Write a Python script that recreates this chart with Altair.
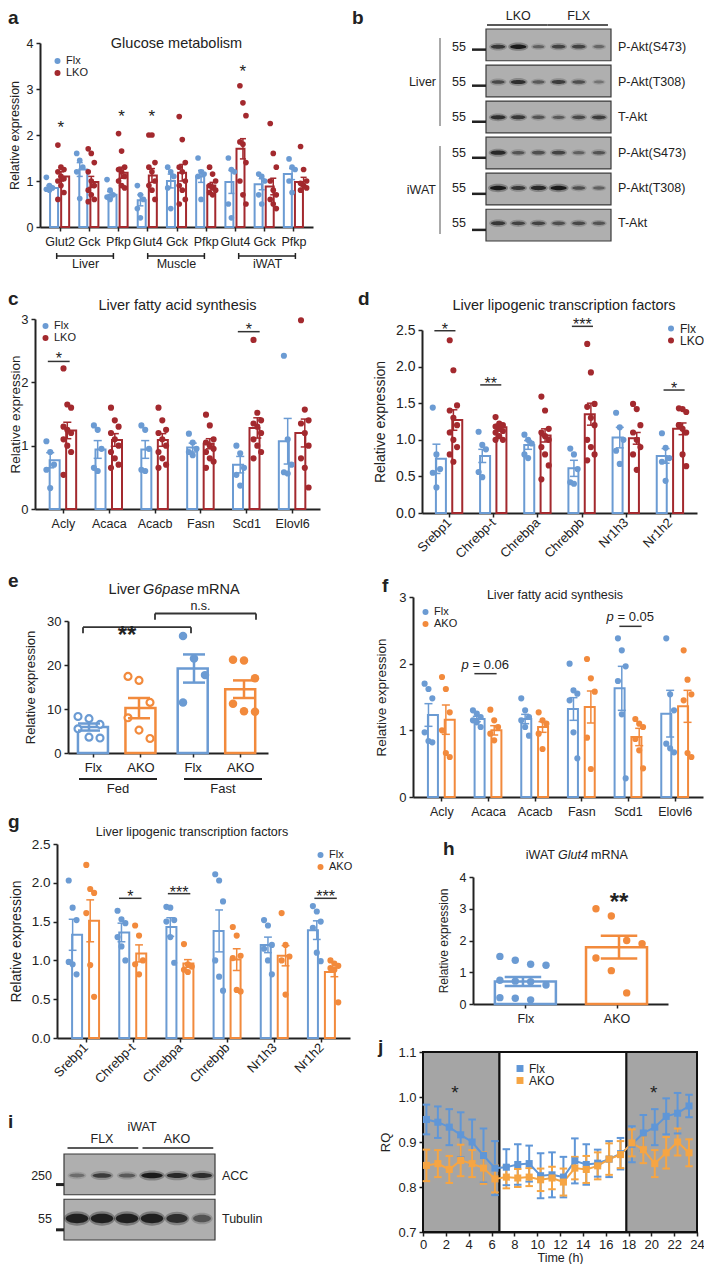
import json
import altair as alt
import pandas as pd

FONT = "Liberation Sans"
INK = "#222222"
BLUE = "#6b9bd3"
RED = "#a3292e"
ORANGE = "#f28a3c"
JBLUE = "#5f96d7"
JORANGE = "#f6a543"
SHADE = "#a5a5a5"
GEL = "#afafaf"
BAND = "#141414"
TW, TH = 696, 1256   # whole drawing area (page minus 8px margin)

# ======================= DATA =======================
# (a) Glucose metabolism
a_genes = ["Glut2", "Gck", "Pfkp", "Glut4", "Gck", "Pfkp", "Glut4", "Gck", "Pfkp"]
a_tissues = ["Liver", "Muscle", "iWAT"]
a_tissue_first = [0, 3, 6]
a_tissue_last = [2, 5, 8]
a_flx_mean = [0.85, 1.25, 0.70, 0.58, 1.00, 1.10, 0.98, 0.93, 1.15]
a_flx_sem = [0.05, 0.15, 0.07, 0.12, 0.15, 0.13, 0.25, 0.12, 0.12]
a_lko_mean = [1.10, 0.98, 1.18, 1.12, 1.18, 0.90, 1.70, 0.88, 0.98]
a_lko_sem = [0.10, 0.12, 0.12, 0.15, 0.18, 0.07, 0.22, 0.18, 0.10]
a_flx_pts = [
    [1.08, 0.90, 0.85, 0.82, 0.80],
    [1.60, 1.45, 1.30, 1.20, 0.62],
    [1.03, 0.80, 0.70, 0.65, 0.60],
    [0.90, 0.70, 0.60, 0.40, 0.20],
    [1.30, 1.20, 1.10, 0.85, 0.40],
    [1.50, 1.20, 1.15, 1.10, 0.60],
    [1.50, 1.25, 1.20, 0.50, 0.20],
    [1.15, 1.10, 1.00, 0.70, 0.50],
    [1.48, 1.30, 1.25, 1.00, 0.75],
]
a_lko_pts = [
    [1.78, 1.30, 1.25, 1.20, 1.10, 1.05, 1.00, 0.90, 0.75, 0.60],
    [1.70, 1.60, 1.40, 1.20, 1.00, 0.90, 0.80, 0.70, 0.60, 0.55],
    [2.03, 1.65, 1.30, 1.25, 1.20, 1.10, 1.00, 0.90, 0.85],
    [2.00, 2.00, 1.40, 1.30, 1.20, 1.00, 0.90, 0.80, 0.60],
    [2.40, 1.90, 1.40, 1.30, 1.20, 1.00, 0.90, 0.80, 0.60, 0.50],
    [1.30, 1.15, 1.00, 0.90, 0.85, 0.80, 0.75, 0.70],
    [3.07, 2.70, 2.42, 1.85, 1.80, 1.40, 1.00, 0.70, 0.50],
    [2.25, 1.60, 1.30, 1.00, 0.80, 0.70, 0.60, 0.50, 0.40],
    [1.75, 1.25, 1.00, 0.95, 0.90, 0.85, 0.80],
]
a_star_gene = [0, 2, 3, 6]
a_star_y = [2.35, 2.58, 2.58, 3.56]

# (b) Akt western blot (band intensities 0-1, lanes 1-6)
b_groups = ["LKO", "FLX"]
b_group_first = [1, 4]
b_group_last = [3, 6]
b_lanes = [1, 2, 3, 4, 5, 6]
b_tissues = ["Liver", "iWAT"]
b_strips = ["P-Akt(S473)", "P-Akt(T308)", "T-Akt"]
b_mw = "55"
b_liver = [[0.70, 1.00, 0.35, 0.60, 0.60, 0.30],
           [0.55, 0.80, 0.40, 0.65, 0.50, 0.20],
           [0.80, 0.70, 0.45, 0.40, 0.55, 0.65]]
b_iwat = [[0.85, 0.45, 0.50, 0.60, 0.35, 0.45],
          [1.00, 0.70, 0.85, 1.00, 0.50, 0.35],
          [0.70, 0.60, 0.60, 0.50, 0.55, 0.45]]

# (c) Liver fatty acid synthesis (Flx vs LKO)
c_genes = ["Acly", "Acaca", "Acacb", "Fasn", "Scd1", "Elovl6"]
c_flx_mean = [0.77, 0.94, 0.94, 0.97, 0.70, 1.07]
c_flx_sem = [0.12, 0.14, 0.14, 0.07, 0.13, 0.36]
c_lko_mean = [1.24, 1.09, 1.09, 1.03, 1.28, 1.20]
c_lko_sem = [0.13, 0.10, 0.10, 0.08, 0.16, 0.22]
c_flx_pts = [
    [1.07, 0.90, 0.70, 0.62, 0.33],
    [1.32, 1.25, 0.95, 0.65, 0.60],
    [1.32, 1.25, 0.95, 0.62, 0.60],
    [1.19, 1.05, 0.95, 0.90, 0.85],
    [1.00, 0.88, 0.65, 0.54, 0.37],
    [2.42, 1.10, 0.70, 0.58, 0.56],
]
c_lko_pts = [
    [2.22, 1.65, 1.60, 1.30, 1.25, 1.20, 1.10, 1.00, 0.90, 0.54],
    [1.60, 1.40, 1.30, 1.20, 1.10, 1.00, 0.90, 0.80, 0.70, 0.65],
    [1.60, 1.40, 1.25, 1.20, 1.10, 1.00, 0.90, 0.80, 0.70, 0.65],
    [1.49, 1.32, 1.10, 1.05, 1.00, 0.95, 0.90, 0.80, 0.75, 0.65],
    [2.67, 1.52, 1.40, 1.35, 1.30, 1.20, 1.10, 1.00, 0.90, 0.80],
    [2.98, 1.57, 1.40, 1.35, 1.20, 1.00, 0.80, 0.65, 0.34],
]
c_sig_gene = [0, 4]
c_sig_y = [2.33, 2.80]
c_sig_label = ["*", "*"]

# (d) Liver lipogenic transcription factors (Flx vs LKO)
d_genes = ["Srebp1", "Chrebp-t", "Chrebpa", "Chrebpb", "Nr1h3", "Nr1h2"]
d_flx_mean = [0.74, 0.78, 0.93, 0.61, 1.03, 0.78]
d_flx_sem = [0.20, 0.09, 0.06, 0.11, 0.14, 0.10]
d_lko_mean = [1.27, 1.17, 1.06, 1.35, 1.02, 1.15]
d_lko_sem = [0.14, 0.04, 0.09, 0.15, 0.08, 0.08]
d_flx_pts = [
    [1.44, 0.80, 0.60, 0.55, 0.35],
    [1.11, 0.93, 0.87, 0.56, 0.49],
    [1.07, 1.00, 0.95, 0.80, 0.75],
    [0.88, 0.80, 0.60, 0.42, 0.40],
    [1.37, 1.17, 1.00, 0.85, 0.67],
    [1.09, 0.89, 0.75, 0.70, 0.44],
]
d_lko_pts = [
    [2.36, 1.95, 1.47, 1.40, 1.30, 1.20, 1.10, 1.00, 0.90, 0.80, 0.70],
    [1.31, 1.22, 1.20, 1.18, 1.15, 1.12, 1.10, 1.05, 1.00, 1.00],
    [1.59, 1.40, 1.15, 1.10, 1.05, 1.00, 0.90, 0.80, 0.65, 0.46],
    [2.31, 1.92, 1.49, 1.45, 1.30, 1.20, 1.00, 0.90, 0.80, 0.72],
    [1.49, 1.42, 1.20, 1.10, 1.00, 0.90, 0.80, 0.59],
    [1.43, 1.42, 1.38, 1.20, 1.15, 1.10, 1.20, 0.80, 0.64],
]
d_sig_gene = [0, 1, 3, 5]
d_sig_y = [2.49, 1.75, 2.55, 1.68]
d_sig_label = ["*", "**", "***", "*"]

# (e) Liver G6pase mRNA
e_cond = ["Fed", "Fed", "Fast", "Fast"]
e_grp = ["Flx", "AKO", "Flx", "AKO"]
e_mean = [5.9, 10.2, 19.2, 14.5]
e_sem = [0.8, 2.3, 3.2, 2.0]
e_pts = [
    [8.3, 7.8, 6.5, 5.5, 3.6, 3.4],
    [17.4, 16.5, 11.5, 8.0, 5.2, 3.3],
    [26.6, 21.5, 17.7, 11.5],
    [21.2, 21.0, 17.0, 11.2, 9.5, 9.4],
]
e_cmp_from = [0, 1]
e_cmp_to = [2, 3]
e_cmp_y = [28.6, 31.7]
e_cmp_label = ["**", "n.s."]

# (f) Liver fatty acid synthesis (Flx vs AKO)
f_genes = ["Acly", "Acaca", "Acacb", "Fasn", "Scd1", "Elovl6"]
f_flx_mean = [1.23, 1.17, 1.17, 1.32, 1.63, 1.25]
f_flx_sem = [0.17, 0.04, 0.07, 0.17, 0.33, 0.35]
f_ako_mean = [1.16, 1.00, 1.05, 1.35, 0.90, 1.36]
f_ako_sem = [0.22, 0.07, 0.08, 0.24, 0.13, 0.24]
f_flx_pts = [
    [1.70, 1.62, 1.48, 0.97, 0.84, 0.82],
    [1.30, 1.25, 1.20, 1.15, 1.12, 1.05],
    [1.48, 1.30, 1.20, 1.15, 1.05, 0.92],
    [2.00, 1.60, 1.55, 1.45, 0.97, 0.58],
    [2.38, 2.20, 1.96, 1.74, 1.24, 0.28],
    [2.38, 1.54, 1.30, 0.80, 0.73, 0.67],
]
f_ako_pts = [
    [1.80, 1.62, 1.27, 1.00, 0.66, 0.60],
    [1.31, 1.15, 1.05, 0.95, 0.85],
    [1.27, 1.15, 1.10, 0.95, 0.72],
    [2.07, 1.78, 1.58, 0.89, 0.42],
    [1.17, 1.10, 1.05, 0.87, 0.70, 0.43],
    [2.20, 1.76, 1.54, 1.45, 0.66, 0.60],
]
f_sig_gene = [1, 4]
f_sig_y = [1.85, 2.56]
f_sig_p = ["0.06", "0.05"]

# (g) Liver lipogenic transcription factors (Flx vs AKO)
g_genes = ["Srebp1", "Chrebp-t", "Chrebpa", "Chrebpb", "Nr1h3", "Nr1h2"]
g_flx_mean = [1.33, 1.36, 1.43, 1.38, 1.20, 1.39]
g_flx_sem = [0.20, 0.12, 0.12, 0.27, 0.10, 0.12]
g_ako_mean = [1.51, 1.09, 0.96, 1.01, 1.06, 0.85]
g_ako_sem = [0.27, 0.11, 0.05, 0.14, 0.13, 0.06]
g_flx_pts = [
    [2.03, 1.68, 1.52, 0.98, 0.95, 0.82],
    [1.64, 1.53, 1.48, 1.30, 1.18, 1.00],
    [1.69, 1.68, 1.52, 1.50, 1.30, 0.97],
    [2.11, 2.03, 1.76, 1.00, 0.79, 0.61],
    [1.52, 1.45, 1.20, 1.15, 1.00, 0.82],
    [1.70, 1.63, 1.50, 1.42, 1.10, 0.99],
]
g_ako_pts = [
    [2.23, 1.92, 1.87, 1.61, 0.94, 0.53],
    [1.45, 1.32, 1.00, 0.95, 0.82],
    [1.21, 0.95, 0.92, 0.88, 0.85],
    [1.43, 1.32, 1.06, 1.03, 0.62, 0.60],
    [1.61, 1.20, 1.05, 1.00, 0.56],
    [1.00, 0.96, 0.93, 0.90, 0.88, 0.46],
]
g_sig_gene = [1, 2, 5]
g_sig_y = [1.80, 1.86, 1.80]
g_sig_label = ["*", "***", "***"]

# (h) iWAT Glut4 mRNA
h_grp = ["Flx", "AKO"]
h_mean = [0.71, 1.79]
h_sem = [0.14, 0.36]
h_pts = [
    [1.50, 1.38, 1.25, 1.22, 0.75, 0.72, 0.70, 0.60, 0.20, 0.18, 0.13],
    [3.00, 2.77, 2.00, 1.90, 1.45, 1.05, 0.35],
]
h_star = "**"
h_star_y = 3.58

# (i) ACC western blot
i_groups = ["FLX", "AKO"]
i_group_first = [1, 4]
i_group_last = [3, 6]
i_lanes = [1, 2, 3, 4, 5, 6]
i_strips = ["ACC", "Tubulin"]
i_mw = ["250", "55"]
i_acc = [0.25, 0.65, 0.40, 1.00, 0.85, 0.80]
i_tub = [0.95, 0.95, 0.95, 0.95, 0.80, 0.45]

# (j) RQ time course
j_time = [0.3, 1.3, 2.3, 3.3, 4.3, 5.3, 6.3, 7.3, 8.3, 9.3, 10.3, 11.3,
          12.3, 13.3, 14.3, 15.3, 16.3, 17.3, 18.3, 19.3, 20.3, 21.3, 22.3, 23.3]
j_flx = [0.950, 0.944, 0.933, 0.916, 0.900, 0.870, 0.842, 0.844, 0.850, 0.852, 0.825, 0.827,
         0.822, 0.858, 0.850, 0.853, 0.862, 0.874, 0.895, 0.920, 0.933, 0.957, 0.964, 0.980]
j_flx_sem = [0.033, 0.035, 0.040, 0.050, 0.050, 0.060, 0.060, 0.040, 0.045, 0.040, 0.050, 0.050,
             0.045, 0.050, 0.045, 0.030, 0.040, 0.035, 0.040, 0.040, 0.040, 0.040, 0.045, 0.025]
j_ako = [0.848, 0.852, 0.839, 0.859, 0.852, 0.842, 0.818, 0.822, 0.820, 0.822, 0.816, 0.820,
         0.811, 0.842, 0.839, 0.847, 0.862, 0.872, 0.898, 0.883, 0.852, 0.876, 0.900, 0.876]
j_ako_sem = [0.035, 0.030, 0.030, 0.035, 0.030, 0.035, 0.030, 0.025, 0.020, 0.020, 0.025, 0.025,
             0.030, 0.025, 0.030, 0.030, 0.035, 0.030, 0.030, 0.030, 0.030, 0.035, 0.030, 0.030]
j_period_start = [0, 6.7, 17.8]
j_period_end = [6.7, 17.8, 24]
j_period_phase = ["dark", "light", "dark"]
j_star_t = [2.8, 20.2]
j_star_y = [1.032, 1.032]


# ======================= HELPERS =======================
def make_axis(**kw):
    d = dict(labelFont=FONT, labelColor=INK, titleFont=FONT, titleColor=INK,
             titleFontWeight="normal", domainColor=INK, domainWidth=2,
             tickColor=INK, tickWidth=1.5, tickSize=4, grid=False,
             labelFlush=False, labelOverlap=False)
    d.update(kw)
    return alt.Axis(**d)


def yaxis(x0, values, fmt, title, title_x, lsize, tsize):
    return make_axis(orient="left", offset=-x0, values=values, format=fmt, title=title,
                     titleX=title_x, titleAngle=270, titleBaseline="bottom",
                     titleAlign="center", labelFontSize=lsize, titleFontSize=tsize,
                     labelPadding=3)


def xaxis(y_bottom, **kw):
    return make_axis(orient="bottom", offset=-(TH - y_bottom), **kw)


def txt(text, x, y, size=12, weight="normal", style="normal", align="left",
        baseline="alphabetic", color=INK):
    return alt.Chart(pd.DataFrame({"t": [text]})).mark_text(
        align=align, baseline=baseline, font=FONT, fontSize=size,
        fontWeight=weight, fontStyle=style, color=color
    ).encode(text="t:N", x=alt.value(x), y=alt.value(y))


def letter(ch, x, y):
    return txt(ch, x, y, size=19, weight="bold")


def leg(x, y, shape="circle", size=36, fs=11):
    return alt.Legend(orient="none", legendX=x, legendY=y, title=None,
                      symbolType=shape, symbolSize=size, labelFontSize=fs,
                      labelFont=FONT, labelColor=INK, padding=0, rowPadding=0,
                      labelOffset=3, symbolStrokeWidth=0, labelLimit=80)


def scalers(xs, ys, xax, yax):
    def X(f, ax=False):
        return alt.X(f, scale=xs, axis=xax if ax else None)

    def Y(f, ax=False):
        return alt.Y(f, scale=ys, axis=yax if ax else None)
    return X, Y


def bar_panel(x0, y0, W, H, genes, groups, colors, means, sems, pts, ydom, yvals, yfmt,
              title_x, off, barw, cap, jit, ptsize, lsize, xsize, tsize,
              angle=0, legend=None, xpad=4):
    n = len(genes)
    brow, prow = [], []
    for g, grp in enumerate(groups):
        for i in range(n):
            brow.append({"gi": i, "grp": grp, "gidx": g,
                         "mean": means[g][i], "sem": sems[g][i]})
            for k, v in enumerate(pts[g][i]):
                prow.append({"gi": i, "grp": grp, "gidx": g, "k": k, "value": v})
    bdf = pd.DataFrame(brow)
    pdf = pd.DataFrame(prow)
    xs = alt.Scale(domain=[-0.5, n - 0.5], range=[x0, x0 + W], nice=False, zero=False)
    ys = alt.Scale(domain=ydom, range=[y0 + H, y0], nice=False, zero=True)
    cs = alt.Scale(domain=groups, range=colors)
    xkw = dict(values=list(range(n)), labelExpr=json.dumps(genes) + "[datum.value]",
               title=None, labelFontSize=xsize, labelPadding=xpad)
    if angle:
        xkw.update(labelAngle=angle, labelAlign="right", labelBaseline="middle")
    xax = xaxis(y0 + H, **xkw)
    yax = yaxis(x0, yvals, yfmt, "Relative expression", title_x, lsize, tsize)
    X, Y = scalers(xs, ys, xax, yax)

    xpos = f"datum.gi + (datum.gidx == 0 ? {-off} : {off})"
    col = alt.Stroke("grp:N", scale=cs, legend=None)
    bb = alt.Chart(bdf).transform_calculate(
        xp=xpos, lo="datum.mean - datum.sem", hi="datum.mean + datum.sem",
        xa=f"{xpos} - {cap}", xb=f"{xpos} + {cap}")
    bars = bb.mark_bar(size=barw, fill="white", strokeWidth=2, orient="vertical").encode(
        x=X("xp:Q", True), y=Y("mean:Q", True), stroke=col)
    dots = alt.Chart(pdf).transform_calculate(
        xp=f"{xpos} + ((datum.k % 3) - 1) * {jit}"
    ).mark_circle(size=ptsize, opacity=1).encode(
        x=X("xp:Q"), y=Y("value:Q"), fill=alt.Fill("grp:N", scale=cs, legend=legend))
    eb = bb.mark_rule(strokeWidth=1.5).encode(x=X("xp:Q"), y=Y("lo:Q"), y2="hi", stroke=col)
    c1 = bb.mark_rule(strokeWidth=1.5).encode(x=X("xa:Q"), x2="xb", y=Y("hi:Q"), stroke=col)
    c2 = bb.mark_rule(strokeWidth=1.5).encode(x=X("xa:Q"), x2="xb", y=Y("lo:Q"), stroke=col)
    return [bars, dots, eb, c1, c2], X, Y


def sig_layers(X, Y, gis, yv, labels, half=0.23, fs=16, dy=4):
    df = pd.DataFrame({"gi": gis, "y": yv, "lab": labels})
    line = alt.Chart(df).transform_calculate(
        xa=f"datum.gi - {half}", xb=f"datum.gi + {half}"
    ).mark_rule(strokeWidth=1.5, color="#333333").encode(x=X("xa:Q"), x2="xb", y=Y("y:Q"))
    star = alt.Chart(df).mark_text(fontSize=fs, dy=dy, font=FONT, color=INK,
                                   baseline="alphabetic").encode(
        x=X("gi:Q"), y=Y("y:Q"), text="lab:N")
    return [line, star]


def ellipse(ry):
    return f"M -1 0 A 1 {ry} 0 1 1 1 0 A 1 {ry} 0 1 1 -1 0 Z"


def band_layer(df, X, Y, ry, size_rng, op_rng):
    return alt.Chart(df).mark_point(shape=ellipse(ry), filled=True, color=BAND,
                                    strokeWidth=0).encode(
        x=X, y=Y,
        size=alt.Size("inten:Q", scale=alt.Scale(domain=[0, 1], range=size_rng), legend=None),
        opacity=alt.Opacity("inten:Q", scale=alt.Scale(domain=[0, 1], range=op_rng), legend=None))


ALL = []

# ======================= PANEL a =======================
ax0, ay0, A_W, A_H = 32, 35, 273, 184
a_l, aX, aY = bar_panel(ax0, ay0, A_W, A_H, a_genes, ["Flx", "LKO"], [BLUE, RED],
                        [a_flx_mean, a_lko_mean], [a_flx_sem, a_lko_sem],
                        [a_flx_pts, a_lko_pts], [0, 4], [0, 1, 2, 3, 4], "d", -19,
                        off=0.19, barw=8, cap=0.1, jit=0.1, ptsize=32, lsize=12.5,
                        xsize=12.5, tsize=12.5, legend=leg(ax0 + 12, ay0 + 12.5), xpad=4)
a_sdf = pd.DataFrame({"gi": a_star_gene, "y": a_star_y, "lab": ["*"] * len(a_star_gene)})
a_tdf = pd.DataFrame({"tissue": a_tissues, "first": a_tissue_first, "last": a_tissue_last})
a_tb = alt.Chart(a_tdf).transform_calculate(
    xa="datum.first + 0.05", xb="datum.last - 0.08", xm="(datum.first + datum.last) / 2")
ALL += a_l + [
    alt.Chart(a_sdf).transform_calculate(xp="datum.gi + 0.19").mark_text(
        fontSize=17, dy=9, font=FONT, color=INK).encode(x=aX("xp:Q"), y=aY("y:Q"), text="lab:N"),
    a_tb.mark_rule(strokeWidth=1.5, color=INK).encode(
        x=aX("xa:Q"), x2="xb", y=alt.value(ay0 + A_H + 29)),
    a_tb.mark_rule(strokeWidth=1.5, color=INK).encode(
        x=aX("xa:Q"), y=alt.value(ay0 + A_H + 26), y2=alt.value(ay0 + A_H + 32)),
    a_tb.mark_rule(strokeWidth=1.5, color=INK).encode(
        x=aX("xb:Q"), y=alt.value(ay0 + A_H + 26), y2=alt.value(ay0 + A_H + 32)),
    a_tb.mark_text(fontSize=12.5, font=FONT, color=INK, baseline="middle").encode(
        x=aX("xm:Q"), y=alt.value(ay0 + A_H + 37), text="tissue:N"),
    txt("Glucose metabolism", ax0 + A_W / 2, ay0 + 1, size=14.5, align="center",
        baseline="middle"),
    letter("a", 0, 16),
]

# ======================= PANEL b (blot) =======================
bx0, by0, B_W, B_H = 478, 21, 125, 212
b_ids = [f"{t}|{s}" for t in b_tissues for s in b_strips]
b_labels = [s for t in b_tissues for s in b_strips]
b_int = b_liver + b_iwat
b_bdf = pd.DataFrame([{"strip": sid, "lane": ln, "inten": v}
                      for sid, vals in zip(b_ids, b_int) for ln, v in zip(b_lanes, vals)])
b_sdf = pd.DataFrame({"strip": b_ids, "label": b_labels, "mw": [b_mw] * len(b_ids)})
bys = alt.Scale(domain=b_ids, range=[by0, by0 + B_H], paddingInner=0.12, paddingOuter=0)
bxs = alt.Scale(domain=[0.4, 6.6], range=[bx0, bx0 + B_W], nice=False, zero=False)


def BY(bp=0.5):
    return alt.Y("strip:N", scale=bys, axis=None, bandPosition=bp)


b_hdf = pd.DataFrame({"grp": b_groups, "first": b_group_first, "last": b_group_last})
b_hb = alt.Chart(b_hdf).transform_calculate(
    xa="datum.first - 0.55", xb="datum.last + 0.45", xm="(datum.first + datum.last) / 2")
BX = alt.X("lane:Q", scale=bxs, axis=None)
ALL += [
    alt.Chart(b_sdf).mark_rect(fill=GEL, stroke="#3a3a3a", strokeWidth=1.2).encode(
        y=alt.Y("strip:N", scale=bys, axis=None), x=alt.value(bx0), x2=alt.value(bx0 + B_W)),
    band_layer(b_bdf, BX, BY(0.41), 0.42, [120, 400], [0.05, 0.3]),
    band_layer(b_bdf, BX, BY(0.41), 0.28, [70, 260], [0.15, 0.95]),
    alt.Chart(b_sdf).mark_rule(strokeWidth=2.5, color=INK).encode(
        x=alt.value(bx0 - 14), x2=alt.value(bx0), y=BY(0.65)),
    alt.Chart(b_sdf).mark_text(align="right", baseline="middle", fontSize=12.5, font=FONT,
                               color=INK).encode(x=alt.value(bx0 - 20), y=BY(0.65), text="mw:N"),
    alt.Chart(b_sdf).mark_text(align="left", baseline="middle", fontSize=12.5, font=FONT,
                               color=INK).encode(x=alt.value(bx0 + B_W + 7), y=BY(0.45),
                                                 text="label:N"),
    b_hb.mark_rule(strokeWidth=1.5, color=INK).encode(
        x=alt.X("xa:Q", scale=bxs, axis=None), x2="xb", y=alt.value(by0 - 4)),
    b_hb.mark_text(fontSize=12.5, font=FONT, color=INK, baseline="middle").encode(
        x=alt.X("xm:Q", scale=bxs, axis=None), y=alt.value(by0 - 13), text="grp:N"),
    alt.Chart(pd.DataFrame({"t": [0]})).mark_rule(strokeWidth=1, color="#555555").encode(
        x=alt.value(bx0 - 46), y=alt.value(by0 + 9), y2=alt.value(by0 + 97)),
    alt.Chart(pd.DataFrame({"t": [0]})).mark_rule(strokeWidth=1, color="#555555").encode(
        x=alt.value(bx0 - 46), y=alt.value(by0 + 117), y2=alt.value(by0 + 205)),
    txt(b_tissues[0], bx0 - 50, by0 + 53, size=12.5, align="right", baseline="middle"),
    txt(b_tissues[1], bx0 - 50, by0 + 161, size=12.5, align="right", baseline="middle"),
    letter("b", 344, 16),
]

# ======================= PANEL c =======================
cx0, cy0, C_W, C_H = 27, 311, 285, 190
c_l, cX, cY = bar_panel(cx0, cy0, C_W, C_H, c_genes, ["Flx", "LKO"], [BLUE, RED],
                        [c_flx_mean, c_lko_mean], [c_flx_sem, c_lko_sem],
                        [c_flx_pts, c_lko_pts], [0, 3], [0, 1, 2, 3], "d", -13,
                        off=0.18, barw=10, cap=0.085, jit=0.08, ptsize=38, lsize=13,
                        xsize=12.5, tsize=13.5, legend=leg(cx0 + 5, cy0 + 1.5), xpad=4)
ALL += c_l + sig_layers(cX, cY, c_sig_gene, c_sig_y, c_sig_label, fs=16, dy=3) + [
    txt("Liver fatty acid synthesis", cx0 + 142.5, cy0 - 13, size=14.5, align="center",
        baseline="middle"),
    letter("c", 0, cy0 - 14),
]

# ======================= PANEL d =======================
dx0, dy0, D_W, D_H = 414, 322, 275, 183
d_l, dX, dY = bar_panel(dx0, dy0, D_W, D_H, d_genes, ["Flx", "LKO"], [BLUE, RED],
                        [d_flx_mean, d_lko_mean], [d_flx_sem, d_lko_sem],
                        [d_flx_pts, d_lko_pts], [0, 2.5], [0, 0.5, 1.0, 1.5, 2.0, 2.5],
                        ".1f", -35, off=0.185, barw=10, cap=0.087, jit=0.08, ptsize=38,
                        lsize=14, xsize=13, tsize=14, angle=315,
                        legend=leg(dx0 + 243, dy0 - 7.5, fs=12), xpad=3)
ALL += d_l + sig_layers(dX, dY, d_sig_gene, d_sig_y, d_sig_label, fs=16, dy=4) + [
    txt("Liver lipogenic transcription factors", dx0 + 142, dy0 - 24, size=14.5,
        align="center", baseline="middle"),
    letter("d", dx0 - 64, dy0 - 25),
]

# ======================= PANEL e =======================
ex0, ey0, E_W, E_H = 60, 613, 200, 132
FAST_SHIFT = 2.1
e_xs = alt.Scale(domain=[-0.42, 3.58], range=[ex0, ex0 + E_W], nice=False, zero=False)
e_ys = alt.Scale(domain=[0, 30], range=[ey0 + E_H, ey0], nice=False, zero=True)
e_cs = alt.Scale(domain=["Flx", "AKO"], range=[BLUE, ORANGE])
e_posexpr = f"(datum.cond == 'Fast' ? {FAST_SHIFT} : 0) + (datum.grp == 'AKO' ? 1 : 0)"
e_pos = [(FAST_SHIFT if c == "Fast" else 0) + (1 if g == "AKO" else 0)
         for c, g in zip(e_cond, e_grp)]
e_xax = xaxis(ey0 + E_H, values=e_pos,
              labelExpr=json.dumps(["Flx", "AKO"]) + "[round(datum.value) % 2]",
              title=None, labelFontSize=13, labelPadding=4)
e_yax = yaxis(ex0, [0, 10, 20, 30], "d", "Relative expression", -31, 13, 13)
eX, eY = scalers(e_xs, e_ys, e_xax, e_yax)
e_bdf = pd.DataFrame({"cond": e_cond, "grp": e_grp, "mean": e_mean, "sem": e_sem})
e_pdf = pd.DataFrame([{"cond": c, "grp": g, "k": k, "value": v}
                      for c, g, vals in zip(e_cond, e_grp, e_pts) for k, v in enumerate(vals)])
e_col = alt.Stroke("grp:N", scale=e_cs, legend=None)
e_bb = alt.Chart(e_bdf).transform_calculate(
    xp=e_posexpr, lo="datum.mean - datum.sem", hi="datum.mean + datum.sem",
    xa=f"{e_posexpr} - 0.22", xb=f"{e_posexpr} + 0.22")
e_pb = alt.Chart(e_pdf).transform_calculate(xp=f"{e_posexpr} + ((datum.k % 3) - 1) * 0.22")
e_br = pd.DataFrame({
    "xa": [e_pos[a] + d for a, d in zip(e_cmp_from, [-0.12, 0.32])],
    "xb": [e_pos[b] + d for b, d in zip(e_cmp_to, [-0.06, 0.24])],
    "y": e_cmp_y, "lab": e_cmp_label})
e_brb = alt.Chart(e_br).transform_calculate(
    ylo="datum.y - 1.4", xm="(datum.xa + datum.xb) / 2 - 0.2",
    xn="(datum.xa + datum.xb) / 2 - 0.1")
e_cdf = pd.DataFrame({"cond": ["Fed", "Fast"], "first": [e_pos[0], e_pos[2]],
                      "last": [e_pos[1], e_pos[3]]})
e_cb = alt.Chart(e_cdf).transform_calculate(
    xa="datum.first - 0.2", xb="datum.last + 0.36", xm="(datum.first + datum.last) / 2 + 0.08")
ALL += [
    e_bb.mark_bar(size=30, fill="white", strokeWidth=2.5, orient="vertical").encode(
        x=eX("xp:Q", True), y=eY("mean:Q", True), stroke=e_col),
    e_pb.transform_filter("datum.cond == 'Fed'").mark_circle(
        size=48, fill="white", strokeWidth=2.2, opacity=1).encode(
        x=eX("xp:Q"), y=eY("value:Q"), stroke=e_col),
    e_pb.transform_filter("datum.cond == 'Fast'").mark_circle(size=72, opacity=1).encode(
        x=eX("xp:Q"), y=eY("value:Q"), fill=alt.Fill("grp:N", scale=e_cs, legend=None)),
    e_bb.mark_rule(strokeWidth=2.5).encode(x=eX("xp:Q"), y=eY("lo:Q"), y2="hi", stroke=e_col),
    e_bb.mark_rule(strokeWidth=2.5).encode(x=eX("xa:Q"), x2="xb", y=eY("hi:Q"), stroke=e_col),
    e_bb.mark_rule(strokeWidth=2.5).encode(x=eX("xa:Q"), x2="xb", y=eY("lo:Q"), stroke=e_col),
    e_brb.mark_rule(strokeWidth=1.8, color="#333333").encode(x=eX("xa:Q"), x2="xb", y=eY("y:Q")),
    e_brb.mark_rule(strokeWidth=1.8, color="#333333").encode(x=eX("xa:Q"), y=eY("y:Q"), y2="ylo"),
    e_brb.mark_rule(strokeWidth=1.8, color="#333333").encode(x=eX("xb:Q"), y=eY("y:Q"), y2="ylo"),
    e_brb.transform_filter("datum.lab == '**'").mark_text(
        fontSize=24, fontWeight="bold", dy=9, font=FONT, color=INK).encode(
        x=eX("xm:Q"), y=eY("y:Q"), text="lab:N"),
    e_brb.transform_filter("datum.lab != '**'").mark_text(
        fontSize=12.5, dy=-8, font=FONT, color=INK, baseline="middle").encode(
        x=eX("xn:Q"), y=eY("y:Q"), text="lab:N"),
    e_cb.mark_rule(strokeWidth=1.8, color=INK).encode(
        x=eX("xa:Q"), x2="xb", y=alt.value(ey0 + E_H + 26)),
    e_cb.mark_text(fontSize=13, font=FONT, color=INK, baseline="middle").encode(
        x=eX("xm:Q"), y=alt.value(ey0 + E_H + 36), text="cond:N"),
    txt("Liver", ex0 + 72, ey0 - 31, size=14.5, align="right", baseline="middle"),
    txt("G6pase", ex0 + 75, ey0 - 31, size=14.5, style="italic", baseline="middle"),
    txt("mRNA", ex0 + 129, ey0 - 31, size=14.5, baseline="middle"),
    letter("e", 0, ey0 - 34),
]

# ======================= PANEL f =======================
fx0, fy0, F_W, F_H = 405, 589, 290, 200
f_l, fX, fY = bar_panel(fx0, fy0, F_W, F_H, f_genes, ["Flx", "AKO"], [BLUE, ORANGE],
                        [f_flx_mean, f_ako_mean], [f_flx_sem, f_ako_sem],
                        [f_flx_pts, f_ako_pts], [0, 3], [0, 1, 2, 3], "d", -25,
                        off=0.18, barw=10, cap=0.083, jit=0.08, ptsize=38, lsize=13,
                        xsize=12.5, tsize=13.5, legend=leg(fx0 + 7, fy0 + 9.5), xpad=4)
f_df = pd.DataFrame({"gi": f_sig_gene, "y": f_sig_y, "pv": f_sig_p})
ALL += f_l + [
    alt.Chart(f_df).transform_calculate(xa="datum.gi - 0.23", xb="datum.gi + 0.23").mark_rule(
        strokeWidth=1.5, color="#333333").encode(x=fX("xa:Q"), x2="xb", y=fY("y:Q")),
    alt.Chart(f_df).mark_text(fontSize=13, fontStyle="italic", align="left", baseline="middle",
                              dx=-24, dy=-9, font=FONT, color=INK).encode(
        x=fX("gi:Q"), y=fY("y:Q"), text=alt.value("p")),
    alt.Chart(f_df).transform_calculate(lab="'= ' + datum.pv").mark_text(
        fontSize=13, align="left", baseline="middle", dx=-13, dy=-9, font=FONT, color=INK).encode(
        x=fX("gi:Q"), y=fY("y:Q"), text="lab:N"),
    txt("Liver fatty acid synthesis", fx0 + 142, fy0 - 2, size=12.5, align="center",
        baseline="middle"),
    letter("f", fx0 - 31, fy0 - 5),
]

# ======================= PANEL g =======================
gx0, gy0, G_W, G_H = 49, 836, 293, 194
g_l, gX, gY = bar_panel(gx0, gy0, G_W, G_H, g_genes, ["Flx", "AKO"], [BLUE, ORANGE],
                        [g_flx_mean, g_ako_mean], [g_flx_sem, g_ako_sem],
                        [g_flx_pts, g_ako_pts], [0, 2.5], [0, 0.5, 1.0, 1.5, 2.0, 2.5],
                        ".1f", -34, off=0.18, barw=10, cap=0.08, jit=0.08, ptsize=38,
                        lsize=13.5, xsize=13, tsize=14, angle=315,
                        legend=leg(gx0 + 258, gy0 + 5.5), xpad=3)
ALL += g_l + sig_layers(gX, gY, g_sig_gene, g_sig_y, g_sig_label, fs=16, dy=4) + [
    txt("Liver lipogenic transcription factors", gx0 + 135, gy0 - 12, size=12.5,
        align="center", baseline="middle"),
    letter("g", 0, gy0 - 16),
]

# ======================= PANEL h =======================
hx0, hy0, H_W, H_H = 465, 869, 195, 127
h_xs = alt.Scale(domain=[-0.52, 1.51], range=[hx0, hx0 + H_W], nice=False, zero=False)
h_ys = alt.Scale(domain=[0, 4], range=[hy0 + H_H, hy0], nice=False, zero=True)
h_cs = alt.Scale(domain=h_grp, range=[BLUE, ORANGE])
h_xax = xaxis(hy0 + H_H, values=[0, 1], labelExpr=json.dumps(h_grp) + "[datum.value]",
              title=None, labelFontSize=12.5, labelPadding=4)
h_yax = yaxis(hx0, [0, 1, 2, 3, 4], "d", "Relative expression", -23, 12.5, 12)
hX, hY = scalers(h_xs, h_ys, h_xax, h_yax)
h_bdf = pd.DataFrame({"gidx": [0, 1], "grp": h_grp, "mean": h_mean, "sem": h_sem})
h_pdf = pd.DataFrame([{"gidx": g, "grp": h_grp[g], "k": k, "value": v}
                      for g, vals in enumerate(h_pts) for k, v in enumerate(vals)])
h_col = alt.Stroke("grp:N", scale=h_cs, legend=None)
h_bb = alt.Chart(h_bdf).transform_calculate(
    lo="datum.mean - datum.sem", hi="datum.mean + datum.sem",
    xa="datum.gidx - 0.19", xb="datum.gidx + 0.19")
ALL += [
    h_bb.mark_bar(size=61, fill="white", strokeWidth=2.5, orient="vertical").encode(
        x=hX("gidx:Q", True), y=hY("mean:Q", True), stroke=h_col),
    alt.Chart(h_pdf).transform_calculate(
        xp="datum.gidx + ((datum.k % 4) - 1.5) * 0.16").mark_circle(size=55, opacity=1).encode(
        x=hX("xp:Q"), y=hY("value:Q"), fill=alt.Fill("grp:N", scale=h_cs, legend=None)),
    h_bb.mark_rule(strokeWidth=2.5).encode(x=hX("gidx:Q"), y=hY("lo:Q"), y2="hi", stroke=h_col),
    h_bb.mark_rule(strokeWidth=2.5).encode(x=hX("xa:Q"), x2="xb", y=hY("hi:Q"), stroke=h_col),
    h_bb.mark_rule(strokeWidth=2.5).encode(x=hX("xa:Q"), x2="xb", y=hY("lo:Q"), stroke=h_col),
    alt.Chart(pd.DataFrame({"x": [1], "y": [h_star_y], "lab": [h_star]})).mark_text(
        fontSize=24, fontWeight="bold", dy=13, font=FONT, color=INK).encode(
        x=hX("x:Q"), y=hY("y:Q"), text="lab:N"),
    txt("iWAT", hx0 + 82, hy0 - 22, size=12.5, align="right", baseline="middle"),
    txt("Glut4", hx0 + 85, hy0 - 22, size=12.5, style="italic", baseline="middle"),
    txt("mRNA", hx0 + 118, hy0 - 22, size=12.5, baseline="middle"),
    letter("h", hx0 - 30, hy0 - 22),
]

# ======================= PANEL i (blot) =======================
ix0, iy0, I_W, I_H = 56, 1146, 151, 86
i_ys = alt.Scale(domain=i_strips, range=[iy0, iy0 + I_H], paddingInner=0.1, paddingOuter=0)
i_xs = alt.Scale(domain=[0.48, 6.52], range=[ix0, ix0 + I_W], nice=False, zero=False)
i_sdf = pd.DataFrame({"strip": i_strips, "mw": i_mw})
i_bdf = pd.DataFrame([{"strip": s, "lane": ln, "inten": v}
                      for s, vals in zip(i_strips, [i_acc, i_tub]) for ln, v in zip(i_lanes, vals)])
i_acc_df = i_bdf[i_bdf["strip"] == i_strips[0]]
i_tub_df = i_bdf[i_bdf["strip"] == i_strips[1]]


def IY(bp=0.5):
    return alt.Y("strip:N", scale=i_ys, axis=None, bandPosition=bp)


IX = alt.X("lane:Q", scale=i_xs, axis=None)
i_hdf = pd.DataFrame({"grp": i_groups, "first": i_group_first, "last": i_group_last})
i_hb = alt.Chart(i_hdf).transform_calculate(
    xa="datum.first - 0.38", xb="datum.last + 0.45", xm="(datum.first + datum.last) / 2")
ALL += [
    alt.Chart(i_sdf).mark_rect(fill=GEL, stroke="#3a3a3a", strokeWidth=1.2).encode(
        y=alt.Y("strip:N", scale=i_ys, axis=None), x=alt.value(ix0), x2=alt.value(ix0 + I_W)),
    band_layer(i_acc_df, IX, IY(0.42), 0.4, [250, 650], [0.05, 0.3]),
    band_layer(i_acc_df, IX, IY(0.42), 0.25, [150, 460], [0.15, 0.95]),
    band_layer(i_tub_df, IX, IY(0.55), 0.55, [250, 700], [0.05, 0.35]),
    band_layer(i_tub_df, IX, IY(0.55), 0.42, [150, 520], [0.15, 0.92]),
    alt.Chart(i_sdf).mark_rule(strokeWidth=3, color=INK).encode(
        x=alt.value(ix0 - 8), x2=alt.value(ix0), y=IY(0.75)),
    alt.Chart(i_sdf).mark_text(align="right", baseline="middle", fontSize=12.5, font=FONT,
                               color=INK).encode(x=alt.value(ix0 - 12), y=IY(0.75), text="mw:N"),
    alt.Chart(i_sdf).mark_text(align="left", baseline="middle", fontSize=12.5, font=FONT,
                               color=INK).encode(x=alt.value(ix0 + I_W + 7), y=IY(0.45),
                                                 text="strip:N"),
    i_hb.mark_rule(strokeWidth=1.5, color=INK).encode(
        x=alt.X("xa:Q", scale=i_xs, axis=None), x2="xb", y=alt.value(iy0 - 6)),
    i_hb.mark_text(fontSize=12.5, font=FONT, color=INK, baseline="middle").encode(
        x=alt.X("xm:Q", scale=i_xs, axis=None), y=alt.value(iy0 - 15), text="grp:N"),
    txt("iWAT", ix0 + 78, iy0 - 27, size=12.5, align="center", baseline="middle"),
    letter("i", 0, iy0 - 26),
]

# ======================= PANEL j =======================
jx0, jy0, J_W, J_H = 415, 1044, 274, 180
j_xs = alt.Scale(domain=[0, 24], range=[jx0, jx0 + J_W], nice=False, zero=False)
j_ys = alt.Scale(domain=[0.7, 1.1], range=[jy0 + J_H, jy0], nice=False, zero=False)
j_cs = alt.Scale(domain=["Flx", "AKO"], range=[JBLUE, JORANGE])
j_xax = xaxis(jy0 + J_H, values=list(range(0, 25, 2)), title="Time (h)", labelFontSize=13,
              titleFontSize=12.5, labelPadding=2, titleY=25, titleBaseline="middle")
j_yax = yaxis(jx0, [0.7, 0.8, 0.9, 1.0, 1.1], ".1f", "RQ", -31, 13, 13)
jX, jY = scalers(j_xs, j_ys, j_xax, j_yax)
j_df = pd.DataFrame({
    "t": j_time + j_time,
    "rq": j_flx + j_ako,
    "sem": j_flx_sem + j_ako_sem,
    "grp": ["Flx"] * len(j_time) + ["AKO"] * len(j_time),
})
j_pdf = pd.DataFrame({"start": j_period_start, "end": j_period_end, "phase": j_period_phase})
j_col = alt.Stroke("grp:N", scale=j_cs, legend=None)
j_b = alt.Chart(j_df).transform_calculate(
    lo="datum.rq - datum.sem", hi="datum.rq + datum.sem",
    xa="datum.t - 0.33", xb="datum.t + 0.33")
ALL += [
    alt.Chart(j_pdf).transform_filter("datum.phase == 'dark'").mark_rect(
        fill=SHADE, stroke="#111111", strokeWidth=2).encode(
        x=jX("start:Q", True), x2="end", y=alt.value(jy0), y2=alt.value(jy0 + J_H)),
    alt.Chart(j_pdf).transform_filter("datum.phase == 'light'").mark_rect(
        fill="white", stroke="#111111", strokeWidth=2).encode(
        x=jX("start:Q"), x2="end", y=alt.value(jy0), y2=alt.value(jy0 + J_H)),
    j_b.mark_rule(strokeWidth=2).encode(x=jX("t:Q"), y=jY("lo:Q", True), y2="hi", stroke=j_col),
    j_b.mark_rule(strokeWidth=2).encode(x=jX("xa:Q"), x2="xb", y=jY("hi:Q"), stroke=j_col),
    j_b.mark_rule(strokeWidth=2).encode(x=jX("xa:Q"), x2="xb", y=jY("lo:Q"), stroke=j_col),
    alt.Chart(j_df).mark_line(strokeWidth=2).encode(x=jX("t:Q"), y=jY("rq:Q"), stroke=j_col),
    alt.Chart(j_df).mark_point(shape="square", filled=True, size=50, opacity=1).encode(
        x=jX("t:Q"), y=jY("rq:Q"),
        fill=alt.Fill("grp:N", scale=j_cs,
                      legend=leg(jx0 + 91, jy0 + 10.5, shape="square", size=48, fs=12))),
    alt.Chart(pd.DataFrame({"t": j_star_t, "y": j_star_y, "lab": ["*"] * len(j_star_t)})).mark_text(
        fontSize=19, dy=10, font=FONT, color=INK).encode(x=jX("t:Q"), y=jY("y:Q"), text="lab:N"),
    letter("j", jx0 - 45, jy0 + 1),
]

# ======================= ASSEMBLE =======================
chart = alt.layer(*ALL).resolve_scale(
    x="independent", y="independent", stroke="independent", fill="independent",
    size="independent", opacity="independent"
).properties(
    width=TW, height=TH, padding=0, autosize=alt.AutoSizeParams(type="none")
).configure(font=FONT).configure_view(strokeWidth=0)

chart.save("out.html", embed_options={"renderer": "svg", "actions": False})
